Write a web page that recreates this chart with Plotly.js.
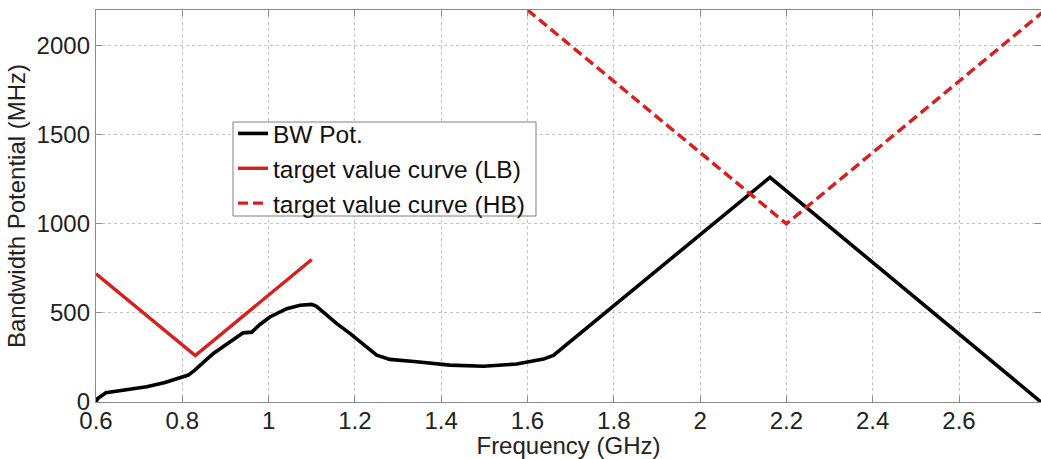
<!DOCTYPE html>
<html>
<head>
<meta charset="utf-8">
<script src="https://cdn.plot.ly/plotly-3.0.1.min.js"></script>
<style>html,body{margin:0;padding:0;background:#fff;}#chart{width:1041px;height:459px;}</style>
</head>
<body>
<div id="chart"></div>
<script>
// BW potential curve (GHz, MHz)
const bwFreq = [0.6, 0.604, 0.623, 0.66, 0.7175, 0.76, 0.795, 0.814, 0.829, 0.872, 0.941, 0.961, 0.98, 1.003, 1.042, 1.073, 1.1, 1.111, 1.158, 1.189, 1.2505, 1.281, 1.343, 1.42, 1.4977, 1.575, 1.637, 1.66, 2.162, 2.79];
const bwPot  = [0, 20, 52, 65, 86, 110, 138, 151, 179, 272, 388, 392, 435, 477, 524, 543, 548, 537, 440, 384, 263, 239, 226, 207, 201, 213, 241, 262, 1261, 0];
// target value curve, low band
const lbFreq = [0.6, 0.83, 1.1];
const lbVal  = [720, 260, 800];
// target value curve, high band
const hbFreq = [1.6, 2.2, 2.8];
const hbVal  = [2200, 1000, 2200];
const xTicks = [0.6, 0.8, 1, 1.2, 1.4, 1.6, 1.8, 2, 2.2, 2.4, 2.6];
const yTicks = [0, 500, 1000, 1500, 2000];

const FONT = "Liberation Sans, Arial, sans-serif";
const red = "#d91e1e";

const traces = [
  {x: bwFreq, y: bwPot, type: "scatter", mode: "lines", name: "BW Pot.",
   line: {color: "#000000", width: 3.6}},
  {x: lbFreq, y: lbVal, type: "scatter", mode: "lines", name: "target value curve (LB)",
   line: {color: red, width: 3.4}},
  {x: hbFreq, y: hbVal, type: "scatter", mode: "lines", name: "target value curve (HB)",
   line: {color: red, width: 3.4, dash: "10px,5px"}}
];

const axisCommon = {
  showline: true, linecolor: "#8c8c8c", linewidth: 1.2, mirror: "ticks",
  ticks: "inside", ticklen: 6, tickcolor: "#8c8c8c", tickwidth: 1,
  showgrid: true, gridcolor: "#c4c4c4", griddash: "dot", gridwidth: 1,
  zeroline: false,
  tickfont: {family: FONT, size: 24, color: "#222"}
};

// plot area: x 96..1041, y 10..402 (px); legend box 233..536 x 122..216
const W = 945, H = 392;
const layout = {
  width: 1041, height: 459,
  margin: {l: 96, r: 0, t: 10, b: 57, pad: 0},
  paper_bgcolor: "#fff", plot_bgcolor: "#fff",
  showlegend: true,
  xaxis: Object.assign({}, axisCommon, {
    range: [0.6, 2.79], tickvals: xTicks, ticktext: xTicks.map(String),
    ticklabelstandoff: -3,
    title: {text: "Frequency (GHz)", font: {family: FONT, size: 24, color: "#222"}, standoff: 0}
  }),
  yaxis: Object.assign({}, axisCommon, {
    range: [0, 2200], tickvals: yTicks, ticktext: yTicks.map(String),
    title: {text: "Bandwidth Potential (MHz)", font: {family: FONT, size: 24, color: "#222"}, standoff: 4}
  }),
  shapes: [{
    type: "rect", xref: "paper", yref: "paper", layer: "above",
    x0: (233 - 96) / W, x1: (536 - 96) / W,
    y0: (402 - 216) / H, y1: (402 - 122) / H,
    line: {color: "#808080", width: 1}, fillcolor: "#ffffff"
  }],
  legend: {
    x: (233 - 96) / W, y: (402 - 111) / H, xanchor: "left", yanchor: "top",
    bgcolor: "rgba(0,0,0,0)", borderwidth: 0,
    font: {family: FONT, size: 24.5, color: "#111"},
    tracegroupgap: 0, itemwidth: 30
  }
};

Plotly.newPlot("chart", traces, layout, {displayModeBar: false, staticPlot: true});
</script>
</body>
</html>
